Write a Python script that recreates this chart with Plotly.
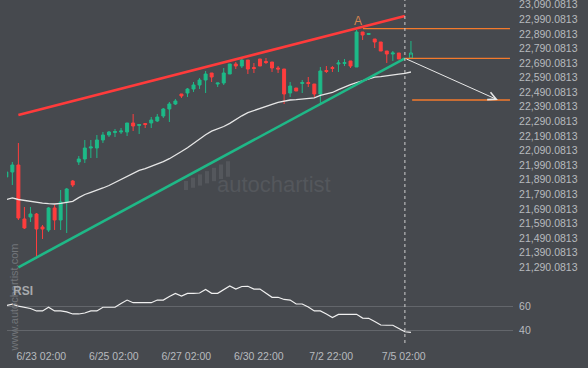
import plotly.graph_objects as go

# ---------------- data ----------------
bar_index = list(range(66)) + [67]
opens = [21909.0, 21943.2, 21991.2, 21621.1, 21634.8, 21655.3, 21566.3, 21545.7, 21696.5, 21614.2,
         21737.6, 21881.5, 22011.8, 22032.3, 22107.7, 22107.7, 22162.6, 22196.8, 22214.0, 22217.4,
         22217.4, 22279.1, 22262.0, 22275.7, 22279.1, 22292.8, 22327.1, 22375.1, 22409.3, 22477.9,
         22484.7, 22512.1, 22539.6, 22573.8, 22621.8, 22546.4, 22553.3, 22615.0, 22683.5, 22669.8,
         22710.9, 22659.5, 22717.8, 22700.6, 22697.2, 22656.1, 22649.2, 22484.7, 22519.0, 22549.8,
         22556.7, 22546.4, 22477.9, 22639.0, 22659.5, 22683.5, 22686.9, 22704.1, 22662.9, 22902.9,
         22885.7, 22854.9, 22834.3, 22772.6, 22752.1, 22758.9]
highs = [21950.1, 22011.8, 22142.0, 21703.3, 21703.3, 21662.2, 21579.9, 21703.3, 21717.0, 21819.8,
         21833.6, 21888.4, 22052.9, 22162.6, 22162.6, 22196.8, 22217.4, 22224.3, 22238.0, 22244.8,
         22279.1, 22340.8, 22272.2, 22279.1, 22320.2, 22340.8, 22381.9, 22423.0, 22443.6, 22477.9,
         22519.0, 22560.1, 22587.5, 22635.5, 22621.8, 22553.3, 22656.1, 22683.5, 22697.2, 22724.6,
         22710.9, 22690.4, 22717.8, 22724.6, 22697.2, 22669.8, 22649.2, 22560.1, 22519.0, 22573.8,
         22594.4, 22546.4, 22662.9, 22669.8, 22669.8, 22710.9, 22717.8, 22704.1, 22916.6, 22902.9,
         22892.6, 22854.9, 22834.3, 22772.6, 22772.6, 22758.9]
lows = [21902.1, 21854.1, 21614.2, 21552.5, 21600.5, 21360.6, 21484.0, 21532.0, 21545.7, 21545.7,
        21525.1, 21840.4, 21991.2, 22004.9, 22039.2, 22039.2, 22142.0, 22183.1, 22183.1, 22203.7,
        22190.0, 22224.3, 22203.7, 22244.8, 22244.8, 22286.0, 22313.4, 22286.0, 22402.5, 22450.5,
        22457.3, 22491.6, 22512.1, 22484.7, 22560.1, 22525.9, 22539.6, 22615.0, 22649.2, 22656.1,
        22615.0, 22621.8, 22669.8, 22683.5, 22628.7, 22621.8, 22409.3, 22457.3, 22498.4, 22484.7,
        22525.9, 22457.3, 22416.2, 22621.8, 22628.7, 22628.7, 22669.8, 22656.1, 22662.9, 22848.0,
        22885.7, 22793.2, 22772.6, 22690.4, 22704.1, 22717.8]
closes = [21943.2, 21991.2, 21627.9, 21559.4, 21655.3, 21552.5, 21552.5, 21696.5, 21614.2, 21737.6,
          21826.7, 21854.1, 22032.3, 22107.7, 22114.6, 22162.6, 22196.8, 22217.4, 22220.8, 22224.3,
          22279.1, 22258.5, 22268.8, 22268.8, 22299.7, 22320.2, 22375.1, 22409.3, 22429.9, 22464.2,
          22512.1, 22539.6, 22573.8, 22615.0, 22594.4, 22553.3, 22621.8, 22683.5, 22669.8, 22710.9,
          22649.2, 22652.7, 22669.8, 22693.8, 22656.1, 22649.2, 22477.9, 22532.7, 22498.4, 22556.7,
          22549.8, 22477.9, 22635.5, 22632.1, 22652.7, 22690.4, 22693.8, 22669.8, 22902.9, 22882.3,
          22892.6, 22834.3, 22772.6, 22752.1, 22758.9, 22717.8]
# current (forming) candle
last_index = [67]
last_open, last_high, last_low, last_close = [22724.6], [22841.2], [22724.6], [22758.9]

ma_index = list(range(68))
ma_values = [21754.7, 21765.7, 21754.7, 21747.2, 21741.7, 21735.5, 21729.4, 21725.9, 21723.9, 21728.7,
             21735.5, 21742.4, 21767.1, 21789.0, 21804.1, 21817.8, 21833.6, 21850.7, 21871.3, 21891.8,
             21912.4, 21932.9, 21954.2, 21965.8, 21980.3, 21996.0, 22013.8, 22034.4, 22057.0, 22083.7,
             22109.8, 22140.0, 22170.8, 22198.9, 22223.6, 22237.3, 22255.1, 22276.4, 22303.1, 22328.4,
             22349.7, 22365.5, 22379.9, 22393.6, 22407.3, 22421.0, 22429.9, 22436.7, 22439.5, 22442.2,
             22445.0, 22451.8, 22468.3, 22479.2, 22488.2, 22508.0, 22525.9, 22541.6, 22555.3, 22568.4,
             22582.1, 22593.0, 22597.1, 22601.3, 22607.4, 22613.6, 22619.8, 22628.7]

rsi_values = [60.7, 61.8, 60.2, 59.4, 58.2, 56.1, 56.1, 59.2, 56.1, 56.1,
              55.3, 53.6, 53.6, 54.4, 56.1, 56.1, 59.2, 59.2, 59.2, 62.3,
              65.2, 63.0, 63.0, 63.0, 63.0, 65.2, 65.2, 68.2, 70.8, 68.6,
              70.7, 70.8, 71.1, 74.0, 70.8, 70.8, 74.0, 76.9, 74.4, 76.5,
              76.7, 74.4, 74.4, 71.1, 67.5, 67.5, 65.7, 65.2, 61.9, 61.9,
              59.4, 56.1, 56.1, 53.6, 50.7, 53.2, 53.3, 53.3, 53.3, 50.2,
              50.0, 47.3, 44.4, 44.2, 44.2, 41.5, 38.8, 38.3]

tick_index = [5.8, 17.8, 29.8, 41.8, 53.8, 65.8]
tick_labels = ["6/23 02:00", "6/25 02:00", "6/27 02:00", "6/30 22:00", "7/2 22:00", "7/5 02:00"]

price_ticks = [21290.0813 + 100 * k for k in range(19)]
price_tick_labels = [f"{v:,.4f}" for v in price_ticks]
rsi_ticks = [40, 60]

now_index = 66
upper_channel_x, upper_channel_y = [2, 66], [22334.0, 23012.5]
lower_channel_x, lower_channel_y = [2, 66], [21290.0, 22722.6]
level_high = (59.05, 22926.0)
level_entry = (66.0, 22722.6)
level_target = (67.2, 22436.7)
level_end = 83.4
arrow_from = (66.0, 22722.6)
arrow_to = (81.4, 22437.0)
point_a = (58.2, 22980.0)

# ---------------- styling ----------------
BG = "#46494e"
GREEN = "#1dba88"
RED = "#ff3d3d"
ORANGE = "#f47a2c"
TXT = "#b7babe"
WM = "#54575c"
FONT = "Liberation Sans, Arial, sans-serif"

W, H = 588, 368
ML, MR, MT, MB = 7, 75, 0, 25
PW, PH = W - ML - MR, H - MT - MB


def px_x(x):
    return (x - ML) / PW


def px_y(y):
    return 1 - (y - MT) / PH


fig = go.Figure()

fig.add_trace(go.Candlestick(
    x=bar_index, open=opens, high=highs, low=lows, close=closes,
    increasing=dict(line=dict(color=GREEN, width=1), fillcolor=GREEN),
    decreasing=dict(line=dict(color=RED, width=1), fillcolor=RED),
    whiskerwidth=0, showlegend=False, hoverinfo="skip", xaxis="x", yaxis="y"))
fig.add_trace(go.Candlestick(
    x=last_index, open=last_open, high=last_high, low=last_low, close=last_close,
    increasing=dict(line=dict(color=GREEN, width=1), fillcolor=BG),
    decreasing=dict(line=dict(color=RED, width=1), fillcolor=BG),
    whiskerwidth=0, showlegend=False, hoverinfo="skip", xaxis="x", yaxis="y"))

fig.add_trace(go.Scatter(x=ma_index, y=ma_values, mode="lines",
                         line=dict(color="#e6e6e6", width=1.3), showlegend=False,
                         hoverinfo="skip", xaxis="x", yaxis="y"))
fig.add_trace(go.Scatter(x=upper_channel_x, y=upper_channel_y, mode="lines",
                         line=dict(color="#ff3b3b", width=2.6), showlegend=False,
                         hoverinfo="skip", xaxis="x", yaxis="y"))
fig.add_trace(go.Scatter(x=lower_channel_x, y=lower_channel_y, mode="lines",
                         line=dict(color="#1fb887", width=2.6), showlegend=False,
                         hoverinfo="skip", xaxis="x", yaxis="y"))

fig.add_trace(go.Scatter(x=ma_index, y=rsi_values, mode="lines",
                         line=dict(color="#f0f0f0", width=1.2), showlegend=False,
                         hoverinfo="skip", xaxis="x", yaxis="y2"))

shapes = []
# watermark logo bars (decoration, below data)
for k in range(7):
    xc = 186 + 7 * k
    shapes.append(dict(type="rect", xref="paper", yref="paper", layer="below",
                       x0=px_x(xc - 2), x1=px_x(xc + 2),
                       y0=px_y(190 - 2.2 * k), y1=px_y(181 - 3.3 * k),
                       fillcolor=WM, line=dict(width=0)))
for (x0, yv) in (level_high, level_entry, level_target):
    shapes.append(dict(type="line", xref="x", yref="y", x0=x0, x1=level_end, y0=yv, y1=yv,
                       line=dict(color=ORANGE, width=1.3)))
shapes.append(dict(type="line", xref="x", yref="paper", x0=now_index, x1=now_index, y0=0, y1=1,
                   line=dict(color="#cfcfcf", width=1, dash="3px,3px")))

annotations = [
    dict(x=arrow_to[0], y=arrow_to[1], ax=arrow_from[0], ay=arrow_from[1], xref="x", yref="y",
         axref="x", ayref="y", showarrow=True, arrowhead=5, arrowsize=1.6, arrowwidth=1,
         arrowcolor="#e8e8e8", text=""),
    dict(x=point_a[0], y=point_a[1], xref="x", yref="y", text="A", showarrow=False,
         font=dict(family=FONT, size=12, color="#d9854f")),
    dict(x=px_x(274), y=px_y(184), xref="paper", yref="paper", text="autochartist",
         xanchor="center", yanchor="middle",
         showarrow=False, font=dict(family=FONT, size=22, color=WM)),
    dict(x=px_x(13.5), y=px_y(298), xref="paper", yref="paper", text="www.autochartist.com",
         xanchor="center", yanchor="middle",
         showarrow=False, textangle=-90, font=dict(family=FONT, size=11, color="#72757a")),
    dict(x=px_x(23), y=px_y(291), xref="paper", yref="paper", text="<b>RSI</b>",
         xanchor="center", yanchor="middle",
         showarrow=False, font=dict(family=FONT, size=12, color="#a6a9ad")),
]

fig.update_layout(
    width=W, height=H,
    margin=dict(l=ML, r=MR, t=MT, b=MB, autoexpand=False),
    paper_bgcolor=BG, plot_bgcolor=BG,
    font=dict(family=FONT, size=10.5, color=TXT),
    shapes=shapes, annotations=annotations,
    xaxis=dict(range=[0.116, 83.9], anchor="y2", showgrid=False, zeroline=False, showline=False,
               tickvals=tick_index, ticktext=tick_labels, ticks="outside", ticklen=3,
               tickcolor=BG, rangeslider=dict(visible=False), fixedrange=True, automargin=False,
               ticklabeloverflow="allow"),
    yaxis=dict(domain=[0.1837, 1], range=[21202.9, 23122.2], side="right", showgrid=False,
               zeroline=False, showline=False, tickvals=price_ticks, ticktext=price_tick_labels,
               ticks="outside", ticklen=3, tickcolor=BG, automargin=False,
               ticklabeloverflow="allow"),
    yaxis2=dict(domain=[0, 0.1778], range=[29.4, 80.25], side="right", showgrid=True,
                gridcolor="#63666b", gridwidth=1, zeroline=False, showline=False,
                tickvals=rsi_ticks, ticktext=[str(v) for v in rsi_ticks],
                ticks="outside", ticklen=3, tickcolor=BG, automargin=False,
                ticklabeloverflow="allow"),
)

fig.write_html(
    "out.html",
    config={"displayModeBar": False},
    post_script="document.body.style.margin='0';document.body.style.background='%s';" % BG,
)
